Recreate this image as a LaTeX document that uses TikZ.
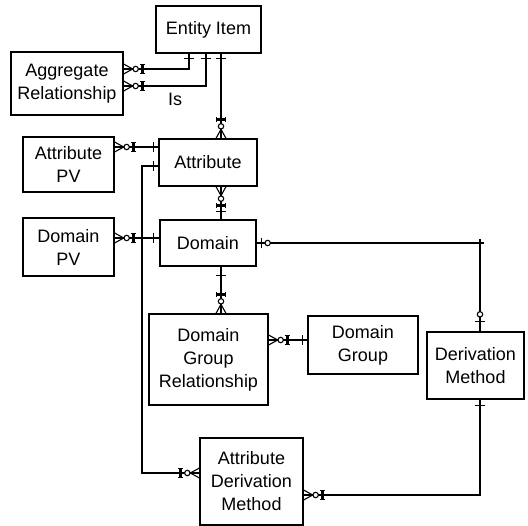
\documentclass[tikz,border=0pt]{standalone}
\usepackage{fontspec}
\setmainfont{Liberation Sans}
\begin{document}
\begin{tikzpicture}[x=1pt,y=-1pt,line width=1.3pt,
  ent/.style={draw,line width=1.3pt,inner sep=0pt,align=center,
    font=\fontsize{18}{23}\selectfont},
  conn/.style={line width=1.3pt},
  pics/many/.style={code={
    \draw[line width=1.1pt] (0,-5)--(9,0) (0,5)--(9,0);
    \draw[line width=1.1pt,fill=white] (12,0) circle (2.7pt);
    \draw[line width=2.6pt] (19,-4.5)--(19,4.5);
    \draw[line width=1.1pt] (16.5,-4.8)--(21.5,-4.8) (16.5,4.8)--(21.5,4.8);
  }},
  pics/bar/.style={code={\draw[line width=1.1pt] (#1,-5)--(#1,5);}},
  pics/zo/.style n args={2}{code={
    \draw[line width=1.1pt] (#1,-5)--(#1,5);
    \draw[line width=1.1pt,fill=white] (#2,0) circle (2.7pt);
  }}
]
\useasboundingbox (0,0) rectangle (528,526);

\node[ent,minimum width=105pt,minimum height=47pt] (ent) at (208.5,29.5) {Entity Item};
\node[ent,minimum width=112pt,minimum height=63pt] (agg) at (67,83.5) {Aggregate\\Relationship};
\node[ent,minimum width=91pt,minimum height=55pt] (apv) at (68.5,164.5) {Attribute\\PV};
\node[ent,minimum width=98pt,minimum height=47pt] (att) at (208,162.5) {Attribute};
\node[ent,minimum width=91pt,minimum height=58pt] (dpv) at (68.5,247) {Domain\\PV};
\node[ent,minimum width=96pt,minimum height=46pt] (dom) at (208,243) {Domain};
\node[ent,minimum width=119pt,minimum height=91pt] (dgr) at (208.5,359.5) {Domain\\Group\\Relationship};
\node[ent,minimum width=110pt,minimum height=58pt] (dg) at (363,345) {Domain\\Group};
\node[ent,minimum width=97pt,minimum height=67pt] (dm) at (475.5,365.5) {Derivation\\Method};
\node[ent,minimum width=103pt,minimum height=87pt] (adm) at (251.5,481.5) {Attribute\\Derivation\\Method};

\coordinate (X189) at (189,0);
\coordinate (X206) at (206,0);
\coordinate (X221) at (221,0);
\coordinate (X142) at (142,0);
\coordinate (X480) at (480,0);
\coordinate (Y69) at (0,69);
\coordinate (Y86) at (0,86);
\coordinate (Y147) at (0,147);
\coordinate (Y166) at (0,166);
\coordinate (Y238) at (0,238);
\coordinate (Y243) at (0,243);
\coordinate (Y340) at (0,340);
\coordinate (Y473) at (0,473);
\coordinate (Y495) at (0,495);
\coordinate (k) at (480,243);

% Entity Item -> Aggregate Relationship
\draw[conn] (ent.south -| X189) |- (agg.east |- Y69);
\draw[conn] (ent.south -| X206) |- (agg.east |- Y86);
\node[font=\fontsize{18}{23}\selectfont] (is) at (175,99) {Is};
% Entity Item -> Attribute
\draw[conn] (ent.south -| X221) -- (att.north -| X221);
% Attribute PV -> Attribute
\draw[conn] (apv.east |- Y147) -- (att.west |- Y147);
% Attribute -> Domain
\draw[conn] (att.south -| X221) -- (dom.north -| X221);
% Domain PV -> Domain
\draw[conn] (dpv.east |- Y238) -- (dom.west |- Y238);
% Domain -> Derivation Method
\draw[conn] (dom.east |- k) -- ([xshift=4pt]k);
\draw[conn] ([yshift=4pt]k) -- (dm.north -| k);
% Domain -> Domain Group Relationship
\draw[conn] (dom.south -| X221) -- (dgr.north -| X221);
% Domain Group -> Domain Group Relationship
\draw[conn] (dg.west |- Y340) -- (dgr.east |- Y340);
% Attribute -> Attribute Derivation Method
\draw[conn] (att.west |- Y166) -| (X142 |- Y473) -- (adm.west |- Y473);
% Derivation Method -> Attribute Derivation Method
\draw[conn] (dm.south -| X480) |- (adm.east |- Y495);

% end symbols
\pic[rotate=-90] at (ent.south -| X189) {bar=5};
\pic[rotate=-90] at (ent.south -| X206) {bar=5};
\pic[rotate=-90] at (ent.south -| X221) {bar=5};
\pic at (agg.east |- Y69) {many};
\pic at (agg.east |- Y86) {many};
\pic[rotate=90] at (att.north -| X221) {many};
\pic at (apv.east |- Y147) {many};
\pic[rotate=180] at (att.west |- Y147) {bar=5};
\pic[rotate=-90] at (att.south -| X221) {many};
\pic[rotate=90] at (dom.north -| X221) {bar=8};
\pic at (dpv.east |- Y238) {many};
\pic[rotate=180] at (dom.west |- Y238) {bar=6};
\pic at (dom.east |- k) {zo={5}{11}};
\pic[rotate=90] at (dm.north -| k) {zo={10}{17}};
\pic[rotate=-90] at (dom.south -| X221) {bar=9};
\pic[rotate=90] at (dgr.north -| X221) {many};
\pic at (dgr.east |- Y340) {many};
\pic[rotate=180] at (dg.west |- Y340) {bar=5};
\pic[rotate=180] at (att.west |- Y166) {bar=5};
\pic[rotate=180] at (adm.west |- Y473) {many};
\pic[rotate=-90] at (dm.south -| X480) {bar=6};
\pic at (adm.east |- Y495) {many};
\end{tikzpicture}
\end{document}
